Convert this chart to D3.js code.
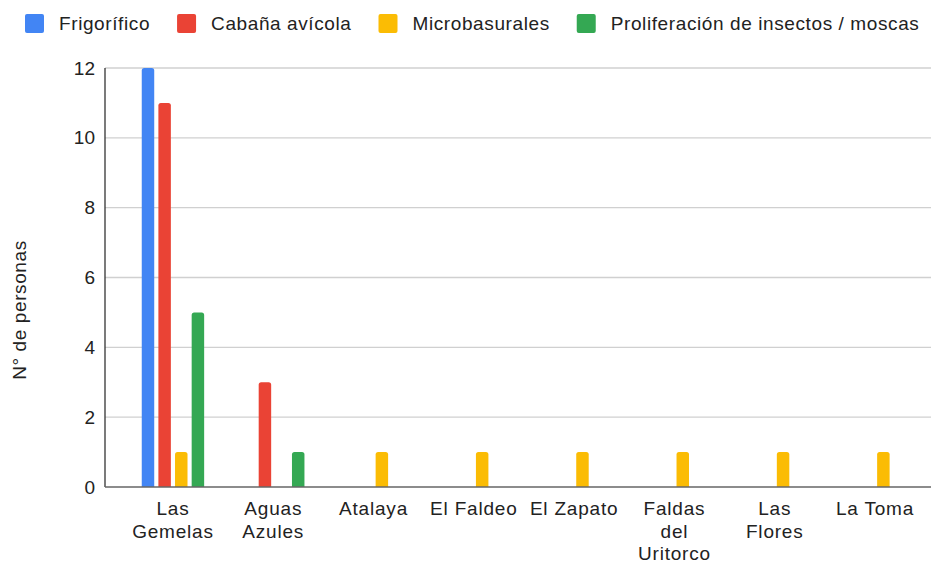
<!DOCTYPE html>
<html>
<head>
<meta charset="utf-8">
<script src="https://cdn.jsdelivr.net/npm/d3@7"></script>
<style>
  html, body { margin: 0; padding: 0; background: #fff; }
  svg { display: block; font-family: "Liberation Sans", Arial, sans-serif; }
</style>
</head>
<body>
<svg id="chart" width="931" height="563"></svg>
<script>
// categories (each label split into lines as shown under the axis)
const categories = ["Las Gemelas", "Aguas Azules", "Atalaya", "El Faldeo", "El Zapato",
  "Faldas del Uritorco", "Las Flores", "La Toma"];
const categoryLines = [["Las", "Gemelas"], ["Aguas", "Azules"], ["Atalaya"], ["El Faldeo"],
  ["El Zapato"], ["Faldas", "del", "Uritorco"], ["Las", "Flores"], ["La Toma"]];

const seriesNames = ["Frigorífico", "Cabaña avícola", "Microbasurales", "Proliferación de insectos / moscas"];
const seriesColors = ["#4285f4", "#ea4335", "#fbbc04", "#34a853"];

// values per series, same order as categories (0 = no bar)
const frigorifico = [12, 0, 0, 0, 0, 0, 0, 0];
const cabanaAvicola = [11, 3, 0, 0, 0, 0, 0, 0];
const microbasurales = [1, 0, 1, 1, 1, 1, 1, 1];
const insectos = [5, 1, 0, 0, 0, 0, 0, 0];
const seriesValues = [frigorifico, cabanaAvicola, microbasurales, insectos];

const yTicks = [0, 2, 4, 6, 8, 10, 12];
const yTitle = "N° de personas";

const svg = d3.select("#chart");

const plot = { left: 105, right: 931, top: 68, bottom: 487 };

const y = d3.scaleLinear().domain([0, 12]).range([plot.bottom, plot.top]);

const x0 = d3.scaleBand()
  .domain(categories)
  .range([122.8, 925.2])
  .padding(0);

const x1 = d3.scaleBand()
  .domain(seriesNames)
  .range([-31.2, 31.2])
  .paddingInner(0.25);

// gridlines
svg.append("g")
  .selectAll("line")
  .data(yTicks.filter(d => d > 0))
  .join("line")
  .attr("x1", plot.left)
  .attr("x2", plot.right)
  .attr("y1", d => y(d))
  .attr("y2", d => y(d))
  .attr("stroke", "#d0d0d0")
  .attr("stroke-width", 1.3);

// y tick labels
svg.append("g")
  .selectAll("text")
  .data(yTicks)
  .join("text")
  .attr("x", 95)
  .attr("y", d => y(d))
  .attr("dy", "0.35em")
  .attr("text-anchor", "end")
  .attr("font-size", 19)
  .attr("fill", "#222")
  .text(d => d);

// y title
svg.append("text")
  .attr("transform", "translate(26,310) rotate(-90)")
  .attr("text-anchor", "middle")
  .attr("font-size", 19)
  .attr("letter-spacing", 0.6)
  .attr("fill", "#222")
  .text(yTitle);

// bars
const barData = [];
seriesValues.forEach((vals, si) => {
  vals.forEach((v, ci) => {
    if (v > 0) barData.push({ series: seriesNames[si], color: seriesColors[si], cat: categories[ci], value: v });
  });
});

function barPath(d) {
  const bx = x0(d.cat) + x0.bandwidth() / 2 + x1(d.series);
  const w = x1.bandwidth();
  const top = y(d.value);
  const bottom = y(0);
  const r = 2.5;
  return `M${bx},${bottom}V${top + r}Q${bx},${top} ${bx + r},${top}H${bx + w - r}Q${bx + w},${top} ${bx + w},${top + r}V${bottom}Z`;
}

svg.append("g")
  .selectAll("path")
  .data(barData)
  .join("path")
  .attr("d", barPath)
  .attr("fill", d => d.color);

// axes lines
svg.append("line")
  .attr("x1", plot.left).attr("x2", plot.left)
  .attr("y1", plot.top).attr("y2", plot.bottom)
  .attr("stroke", "#333").attr("stroke-width", 1.3);
svg.append("line")
  .attr("x1", plot.left).attr("x2", plot.right)
  .attr("y1", plot.bottom).attr("y2", plot.bottom)
  .attr("stroke", "#666").attr("stroke-width", 1.6);

// x labels
const xLabels = svg.append("g")
  .selectAll("text")
  .data(categories)
  .join("text")
  .attr("text-anchor", "middle")
  .attr("font-size", 19)
  .attr("letter-spacing", 0.8)
  .attr("fill", "#222");

xLabels.each(function (d, i) {
  const t = d3.select(this);
  categoryLines[i].forEach((line, li) => {
    t.append("tspan")
      .attr("x", x0(d) + x0.bandwidth() / 2)
      .attr("y", 515 + li * 22.5)
      .text(line);
  });
});

// legend
const legend = svg.append("g");
let lx = 25;
seriesNames.forEach((name, i) => {
  legend.append("rect")
    .attr("x", lx)
    .attr("y", 14)
    .attr("width", 19)
    .attr("height", 19)
    .attr("rx", 2)
    .attr("fill", seriesColors[i]);
  const txt = legend.append("text")
    .attr("x", lx + 34)
    .attr("y", 23.5)
    .attr("dy", "0.35em")
    .attr("font-size", 19)
    .attr("letter-spacing", 0.6)
    .attr("fill", "#222")
    .text(name);
  lx = lx + 34 + txt.node().getComputedTextLength() + 27;
});
</script>
</body>
</html>
